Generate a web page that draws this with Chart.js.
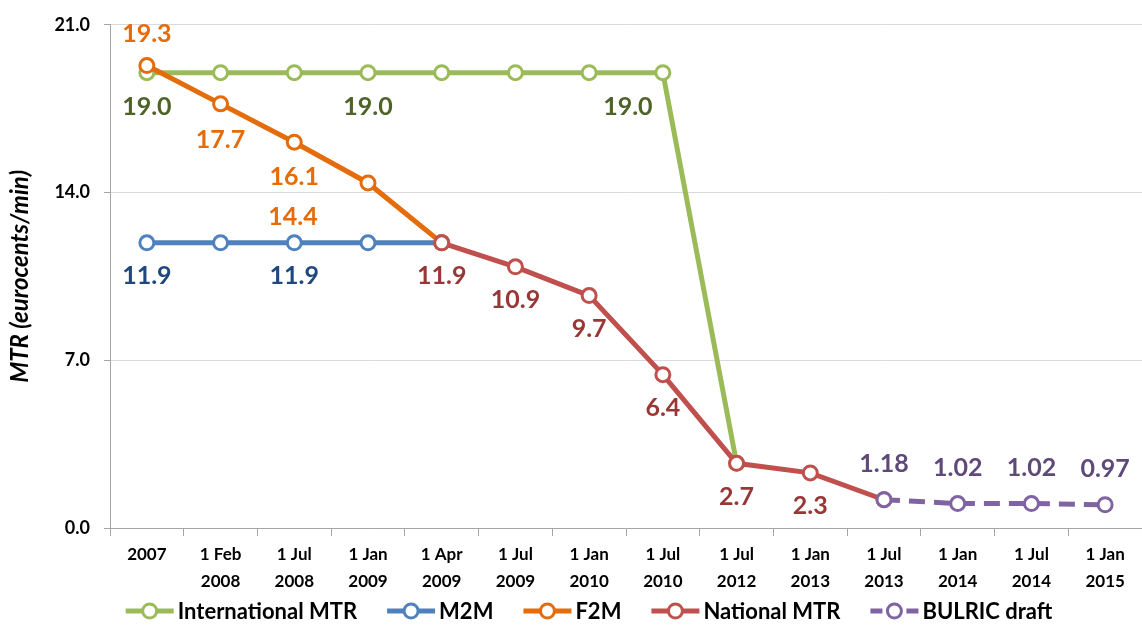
<!DOCTYPE html>
<html>
<head>
<meta charset="utf-8">
<script src="https://cdn.jsdelivr.net/npm/chart.js@4.4.1/dist/chart.umd.min.js"></script>
<style>
html, body { margin: 0; padding: 0; background: #fff; }
#wrap { width: 1142px; height: 634px; }
</style>
</head>
<body>
<div id="wrap"><canvas id="chart"></canvas></div>
<script>
// DATA
const categories = [
  ['2007'], ['1 Feb', '2008'], ['1 Jul', '2008'], ['1 Jan', '2009'], ['1 Apr', '2009'],
  ['1 Jul', '2009'], ['1 Jan', '2010'], ['1 Jul', '2010'], ['1 Jul', '2012'], ['1 Jan', '2013'],
  ['1 Jul', '2013'], ['1 Jan', '2014'], ['1 Jul', '2014'], ['1 Jan', '2015']
];
const intlMTR     = [19.0, 19.0, 19.0, 19.0, 19.0, 19.0, 19.0, 19.0, 2.7, null, null, null, null, null];
const m2m         = [11.9, 11.9, 11.9, 11.9, 11.9, null, null, null, null, null, null, null, null, null];
const f2m         = [19.3, 17.7, 16.1, 14.4, 11.9, null, null, null, null, null, null, null, null, null];
const nationalMTR = [null, null, null, null, 11.9, 10.9, 9.7, 6.4, 2.7, 2.3, 1.18, null, null, null];
const bulric      = [null, null, null, null, null, null, null, null, null, null, 1.18, 1.02, 1.02, 0.97];
const yTicks = [0, 7, 14, 21];

// which points carry a value label: index -> [dx, dy]
const intlLabels = { 0: [0, 34], 3: [0, 34], 7: [-35, 34] };
const m2mLabels = { 0: [0, 33], 2: [0, 33] };
const f2mLabels = { 0: [0, -32], 1: [0, 36], 2: [0, 35], 3: [-75, 34] };
const nationalLabels = { 4: [0, 33], 5: [0, 33], 6: [0, 33], 7: [0, 33], 8: [0, 34], 9: [0, 33] };
const bulricLabels = { 10: [0, -36], 11: [0, -36], 12: [0, -36], 13: [0, -36] };

const FONT = 'Lato, "Open Sans", sans-serif';

function drawIcon(g, x, y, color, dashed) {
  g.save();
  g.strokeStyle = color;
  g.lineWidth = 5;
  if (dashed) g.setLineDash([12, 6]);
  g.beginPath(); g.moveTo(x, y); g.lineTo(x + 48, y); g.stroke();
  g.setLineDash([]);
  g.lineWidth = 3;
  g.fillStyle = '#fff';
  g.beginPath(); g.arc(x + 24, y, 7, 0, Math.PI * 2); g.fill(); g.stroke();
  g.restore();
}

function series(label, data, color, labelColor, labels, order, decimals, dashed) {
  return {
    label: label,
    data: data,
    borderColor: color,
    backgroundColor: color,
    borderWidth: 5,
    borderDash: dashed ? [16, 9] : [],
    pointRadius: 7,
    pointHoverRadius: 7,
    pointBorderWidth: 3,
    pointBackgroundColor: '#fff',
    pointBorderColor: color,
    dashedLine: dashed,
    valueLabels: labels,
    valueColor: labelColor,
    valueDecimals: decimals,
    tension: 0,
    order: order
  };
}

const valueLabelPlugin = {
  id: 'valueLabels',
  afterDatasetsDraw(chart) {
    const ctx = chart.ctx;
    ctx.save();
    ctx.font = 'bold 25px ' + FONT;
    ctx.textAlign = 'center';
    ctx.textBaseline = 'middle';
    chart.data.datasets.forEach((ds, i) => {
      const meta = chart.getDatasetMeta(i);
      Object.keys(ds.valueLabels).forEach(k => {
        const idx = +k;
        const pt = meta.data[idx];
        const off = ds.valueLabels[k];
        ctx.fillStyle = ds.valueColor;
        ctx.fillText(ds.data[idx].toFixed(ds.valueDecimals), pt.x + off[0], pt.y + off[1]);
      });
    });
    ctx.restore();
  }
};

// legend drawn by hand: line + hollow marker, then bold text
const bottomLegend = {
  id: 'bottomLegend',
  afterDraw(chart) {
    const ctx = chart.ctx;
    ctx.save();
    ctx.font = 'bold 22px ' + FONT;
    ctx.textBaseline = 'middle';
    ctx.textAlign = 'left';
    const iconW = 48, gapIcon = 4, gapItem = 30;
    const items = chart.data.datasets.map(ds => ({ ds: ds, w: iconW + gapIcon + ctx.measureText(ds.label).width }));
    const total = items.reduce((s, it) => s + it.w, 0) + gapItem * (items.length - 1);
    let x = 589 - total / 2;
    const y = 611;
    items.forEach(it => {
      drawIcon(ctx, x, y, it.ds.borderColor, it.ds.dashedLine);
      ctx.fillStyle = '#000';
      ctx.fillText(it.ds.label, x + iconW + gapIcon, y + 1);
      x += it.w + gapItem;
    });
    ctx.restore();
  }
};

const data = {
  labels: categories,
  datasets: [
    series('International MTR', intlMTR, '#9BBB59', '#4F6228', intlLabels, 5, 1, false),
    series('M2M', m2m, '#4F81BD', '#1F497D', m2mLabels, 4, 1, false),
    series('F2M', f2m, '#E46C0A', '#E46C0A', f2mLabels, 3, 1, false),
    series('National MTR', nationalMTR, '#C0504D', '#983836', nationalLabels, 2, 1, false),
    series('BULRIC draft', bulric, '#8064A2', '#5F497A', bulricLabels, 1, 2, true)
  ]
};

const config = {
  type: 'line',
  data: data,
  options: {
    responsive: true,
    maintainAspectRatio: false,
    animation: false,
    layout: { autoPadding: false, padding: { top: 22, right: 0, bottom: 0, left: 0 } },
    scales: {
      x: {
        offset: true,
        afterFit: (scale) => { scale.height = 106; },
        grid: { display: true, drawOnChartArea: false, offset: true, tickLength: 8, color: '#A6A6A6', lineWidth: 1 },
        border: { color: '#A6A6A6', width: 1 },
        ticks: {
          color: '#000',
          font: { family: FONT, size: 17, weight: 'bold', lineHeight: 1.6 },
          maxRotation: 0,
          autoSkip: false,
          padding: 5
        }
      },
      y: {
        min: 0,
        max: 21,
        afterBuildTicks: (scale) => { scale.ticks = yTicks.map(v => ({ value: v })); },
        afterFit: (scale) => { scale.width = 110; },
        grid: { color: '#D9D9D9', lineWidth: 1, tickLength: 6, tickColor: '#A6A6A6' },
        border: { color: '#A6A6A6', width: 1 },
        ticks: {
          color: '#000',
          font: { family: FONT, size: 18, weight: 'bold' },
          padding: 14,
          callback: (v) => Number(v).toFixed(1)
        },
        title: {
          display: true,
          text: 'MTR (eurocents/min)',
          color: '#000',
          font: { family: FONT, size: 24, weight: 'bold', style: 'italic' },
          padding: { top: 6, bottom: 0 }
        }
      }
    },
    plugins: {
      legend: { display: false },
      tooltip: { enabled: false }
    }
  },
  plugins: [valueLabelPlugin, bottomLegend]
};

new Chart(document.getElementById('chart'), config);
</script>
</body>
</html>
